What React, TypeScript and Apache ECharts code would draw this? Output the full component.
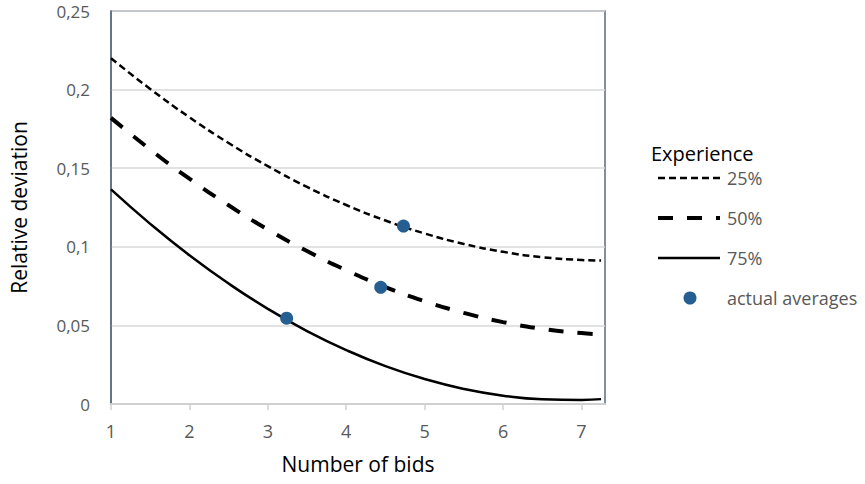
import React, { useEffect, useRef } from "react";
import * as echarts from "echarts";

const xs = [1, 1.5, 2, 2.5, 3, 3.5, 4, 4.5, 5, 5.5, 6, 6.5, 7, 7.25];
const exp25 = [0.22, 0.2004, 0.1824, 0.166, 0.1513, 0.1381, 0.1266, 0.1167, 0.1085, 0.1018, 0.0968, 0.0934, 0.0916, 0.0913];
const exp50 = [0.182, 0.1619, 0.1433, 0.1264, 0.111, 0.0973, 0.0851, 0.0744, 0.0654, 0.058, 0.0521, 0.0478, 0.0451, 0.0444];
const exp75 = [0.1365, 0.1146, 0.0946, 0.0766, 0.0605, 0.0464, 0.0343, 0.0241, 0.0159, 0.0096, 0.0053, 0.003, 0.0026, 0.0031];
const avgX = [3.24, 4.44, 4.73];
const avgY = [0.0546, 0.0742, 0.1132];
const legendNames = ["25%", "50%", "75%"];
const legendTitle = "Experience";
const scatterName = "actual averages";
const xName = "Number of bids";
const yName = "Relative deviation";

const FONT = "Open Sans";
const GREY = "#595959";
const DOT = "#255E91";

export default function App() {
  const ref = useRef<HTMLDivElement>(null);
  useEffect(() => {
    if (!ref.current) return;
    const chart = echarts.init(ref.current, undefined, { renderer: "svg" });
    const pair = (ys: number[]) => xs.map((x, i) => [x, ys[i]]);
    const styles = [
      { width: 2.5, type: [7, 4] as any },
      { width: 4, type: [15, 14] as any },
      { width: 2.5, type: "solid" as any },
    ];
    const legendRows = [178, 218, 258];
    const graphic: any[] = [
      {
        type: "text",
        left: 651,
        top: 143,
        style: { text: legendTitle, font: `20px "${FONT}"`, fill: "#000" },
      },
    ];
    legendRows.forEach((y, i) => {
      graphic.push({
        type: "line",
        shape: { x1: 658, y1: y, x2: 720, y2: y },
        style: {
          stroke: "#000",
          lineWidth: styles[i].width,
          lineDash: Array.isArray(styles[i].type) ? styles[i].type : null,
        },
      });
      graphic.push({
        type: "text",
        x: 727,
        y: y,
        style: {
          text: legendNames[i],
          font: `18px "${FONT}"`,
          fill: GREY,
          verticalAlign: "middle",
        },
      });
    });
    graphic.push({
      type: "circle",
      shape: { cx: 690, cy: 298, r: 6.5 },
      style: { fill: DOT },
    });
    graphic.push({
      type: "text",
      x: 727,
      y: 298,
      style: { text: scatterName, font: `18px "${FONT}"`, fill: GREY, verticalAlign: "middle" },
    });

    chart.setOption({
      animation: false,
      backgroundColor: "#fff",
      textStyle: { fontFamily: FONT },
      grid: {
        left: 111,
        top: 11,
        right: 260,
        bottom: 80,
        show: true,
        borderColor: "#5B6B80",
        borderWidth: 1.5,
      },
      xAxis: {
        type: "value",
        min: 1,
        max: 7.3,
        interval: 1,
        name: xName,
        nameLocation: "middle",
        nameGap: 49,
        nameTextStyle: { fontSize: 21, color: "#000", fontFamily: FONT },
        axisLine: { show: true, lineStyle: { color: "#D0D0D0", width: 2 } },
        axisTick: { show: true, length: 6, lineStyle: { color: "#D0D0D0", width: 1.5 } },
        splitLine: { show: false },
        axisLabel: {
          fontSize: 18,
          color: GREY,
          margin: 18,
          showMaxLabel: false,
          formatter: (v: number) => (Number.isInteger(v) ? String(v) : ""),
        },
      },
      yAxis: {
        type: "value",
        min: 0,
        max: 0.25,
        interval: 0.05,
        name: yName,
        nameLocation: "middle",
        nameGap: 82,
        nameTextStyle: { fontSize: 21, color: "#000", fontFamily: FONT },
        axisLine: { show: true, lineStyle: { color: "#5B6B80", width: 1.5 } },
        axisTick: { show: false },
        splitLine: { show: true, lineStyle: { color: "#D9D9D9", width: 1.5 } },
        axisLabel: {
          fontSize: 17,
          lineHeight: 17,
          color: GREY,
          margin: 21,
          formatter: (v: number) => String(Math.round(v * 100) / 100).replace(".", ","),
        },
      },
      series: [
        ...[exp25, exp50, exp75].map((ys, i) => ({
          name: legendNames[i],
          type: "line",
          data: pair(ys),
          smooth: true,
          showSymbol: false,
          symbol: "none",
          lineStyle: { color: "#000", width: styles[i].width, type: styles[i].type },
          z: 2,
        })),
        {
          name: scatterName,
          type: "scatter",
          data: avgX.map((x, i) => [x, avgY[i]]),
          symbolSize: 13,
          itemStyle: { color: DOT, opacity: 1 },
          z: 5,
        },
      ],
      graphic,
    });
    return () => chart.dispose();
  }, []);
  return (
    <div
      ref={ref}
      style={{ position: "absolute", left: 0, top: 0, width: 865, height: 484 }}
    />
  );
}
